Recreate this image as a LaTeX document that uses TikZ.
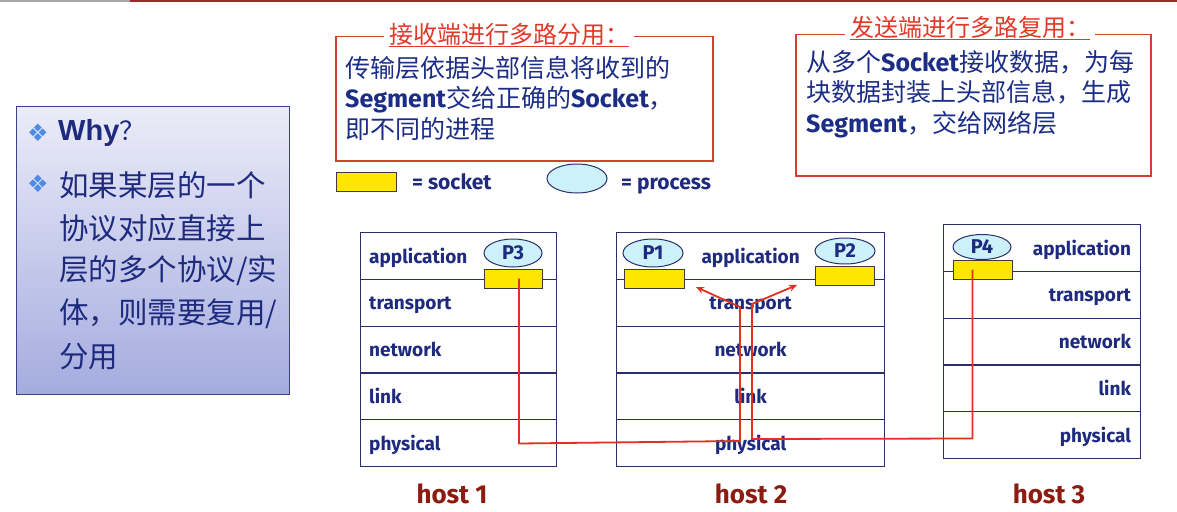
\documentclass[tikz,border=0pt]{standalone}
\usepackage{fontspec}
\setmainfont{Noto Sans CJK SC}
\newfontfamily\lat{Fira Sans}
\newfontfamily\arial{Liberation Sans}
\newfontfamily\sym{DejaVu Sans}
\usetikzlibrary{shapes.geometric,arrows.meta}
\definecolor{navy}{HTML}{1E2A7E}
\definecolor{bodycol}{HTML}{1C2D86}
\definecolor{laycol}{HTML}{2A2F6A}
\definecolor{proccol}{HTML}{CDF1FA}
\definecolor{sockfill}{HTML}{FFE600}
\definecolor{sockdraw}{HTML}{3C3C3C}
\definecolor{framecol}{HTML}{D2402E}
\definecolor{titlecol}{HTML}{E03A28}
\definecolor{pathcol}{HTML}{E2301E}
\definecolor{hostcol}{HTML}{8E1B12}
\definecolor{whyborder}{HTML}{3B3F8C}
\definecolor{whytop}{HTML}{EBECF8}
\definecolor{whybot}{HTML}{A4ACDF}
\definecolor{bulletcol}{HTML}{4D8BE6}
\definecolor{topred}{HTML}{A0262A}
\begin{document}
\begin{tikzpicture}[x=1pt,y=-1pt,
  layer/.style={draw=laycol,line width=1.2pt,minimum height=46.8pt,inner sep=0pt,anchor=north west},
  lab/.style={font=\lat\bfseries\fontsize{19}{20}\selectfont,text=navy,inner sep=0pt},
  leglab/.style={font=\lat\bfseries\fontsize{21}{22}\selectfont,text=navy,inner sep=0pt},
  proc/.style={ellipse,draw=laycol,line width=1pt,fill=proccol,minimum width=58pt,minimum height=28pt,inner sep=0pt,font=\lat\bfseries\fontsize{20}{22}\selectfont,text=navy},
  sock/.style={draw=sockdraw,line width=1pt,fill=sockfill,minimum width=58pt,minimum height=19pt,inner sep=0pt},
  frame/.style={draw=framecol,line width=1.5pt},
  body/.style={text=bodycol,font=\fontsize{25}{30.5}\selectfont,anchor=west,inner sep=0pt,align=left},
  titlestyle/.style={text=titlecol,font=\fontsize{24}{26}\selectfont,fill=white,inner xsep=5pt,inner ysep=0pt},
  redpath/.style={draw=pathcol,line width=1.8pt},
  hostlab/.style={text=hostcol,font=\lat\bfseries\fontsize{26}{28}\selectfont,inner sep=0pt,anchor=base},
  whytext/.style={text=navy,font=\fontsize{29.5}{31}\selectfont,anchor=west,inner sep=0pt},
  bullet/.style={text=bulletcol,font=\sym\fontsize{24}{26}\selectfont,inner sep=0pt}
]
\useasboundingbox (0,0) rectangle (1177,511);
% top strip
\draw[gray!70,line width=1.5pt] (0,1) -- (130,1);
\draw[topred,line width=2pt] (130,1) -- (1177,1);

% Why box
\node[draw=whyborder,line width=1.3pt,top color=whytop,bottom color=whybot,minimum width=273pt,minimum height=288pt,anchor=north west,inner sep=0pt] (why) at (16,106) {};
\node[bullet] (b1) at (38,133) {❖};
\node[whytext] (w0) at (58,133) {{\arial\bfseries\fontsize{29}{31}\selectfont Why}{\fontsize{26}{28}\selectfont ？}};
\node[bullet] (b2) at (38,184) {❖};
\node[whytext] (w1) at (59,185) {如果某层的一个};
\node[whytext] (w2) at (59,228) {协议对应直接上};
\node[whytext] (w3) at (59,271) {层的多个协议/实};
\node[whytext] (w4) at (59,314) {体，则需要复用/};
\node[whytext] (w5) at (59,357) {分用};

% receiver box
\node[frame,minimum width=377pt,minimum height=124pt,anchor=north west,inner sep=0pt] (rbox) at (335,36) {};
\node[titlestyle] (rt) at (509,34) {接收端进行多路分用：};
\draw[titlecol,line width=1pt] ([xshift=5pt,yshift=-1pt]rt.south west) -- ([xshift=-5pt,yshift=-1pt]rt.south east);
\node[body] (rb) at (345,98) {传输层依据头部信息将收到的\\{\lat\bfseries Segment}交给正确的{\lat\bfseries Socket}，\\即不同的进程};

% sender box
\node[frame,minimum width=355pt,minimum height=141pt,anchor=north west,inner sep=0pt] (sbox) at (795,34) {};
\node[titlestyle] (st) at (970,27) {发送端进行多路复用：};
\draw[titlecol,line width=1pt] ([xshift=5pt,yshift=-1pt]st.south west) -- ([xshift=-5pt,yshift=-1pt]st.south east);
\node[body] (sb) at (806,94) {从多个{\lat\bfseries Socket}接收数据，为每\\块数据封装上头部信息，生成\\{\lat\bfseries Segment}，交给网络层};

% legend
\node[sock,minimum width=60pt] (legs) at (366,181.5) {};
\node[leglab,anchor=base west] (legst) at (412,189) {= socket};
\node[proc,minimum width=60pt,minimum height=29pt] (legp) at (577,178.5) {};
\node[leglab,anchor=base west] (legpt) at (621,189) {= process};

% hosts
\foreach \h/\x/\y/\w in {1/360/232/196,2/616/232/268,3/943/224/197}{
  \foreach \i in {1,...,5}{
    \node[layer,minimum width=\w pt] (h\h-\i) at (\x,{\y+(\i-1)*46.8}) {};
  }
}
\foreach \i/\t in {1/application,2/transport,3/network,4/link,5/physical}{
  \node[lab,anchor=base west] (l1-\i) at ([xshift=9pt,yshift=-7pt]h1-\i.west) {\t};
  \node[lab,anchor=base] (l2-\i) at ([yshift=-7pt]h2-\i.center) {\t};
  \node[lab,anchor=base east] (l3-\i) at ([xshift=-10pt,yshift=-7pt]h3-\i.east) {\t};
}

% processes and sockets
\node[proc] (p3) at (513,253) {P3};
\node[sock] (s3) at (513,278.5) {};
\node[proc,minimum width=60pt] (p1) at (653,253) {P1};
\node[sock,minimum width=60pt] (s1) at (654,278.5) {};
\node[proc,minimum width=60pt,minimum height=26pt] (p2) at (845,251) {P2};
\node[sock,minimum width=59pt] (s2) at (844.5,276) {};
\node[proc,minimum height=25pt] (p4) at (982,247) {P4};
\node[sock,minimum width=59pt] (s4) at (982.5,269.5) {};

% host labels
\node[hostlab] (host1) at (452,503) {host 1};
\node[hostlab] (host2) at (751,503) {host 2};
\node[hostlab] (host3) at (1049,503) {host 3};

% red paths
\coordinate (j1) at (740,441);
\coordinate (t1) at (740,307);
\coordinate (e1) at (696,287);
\coordinate (j2) at (752,439);
\coordinate (t2) at (752,304);
\coordinate (e2) at (797,285);
\draw[redpath,-{Stealth[length=8pt,width=7pt]}] ([xshift=6pt]s3.center) -- ++(0,165) -- (j1) -- (t1) -- (e1);
\draw[redpath,-{Stealth[length=8pt,width=7pt]}] ([xshift=-10pt]s4.center) -- ++(0,169) -- (j2) -- (t2) -- (e2);
\end{tikzpicture}
\end{document}
